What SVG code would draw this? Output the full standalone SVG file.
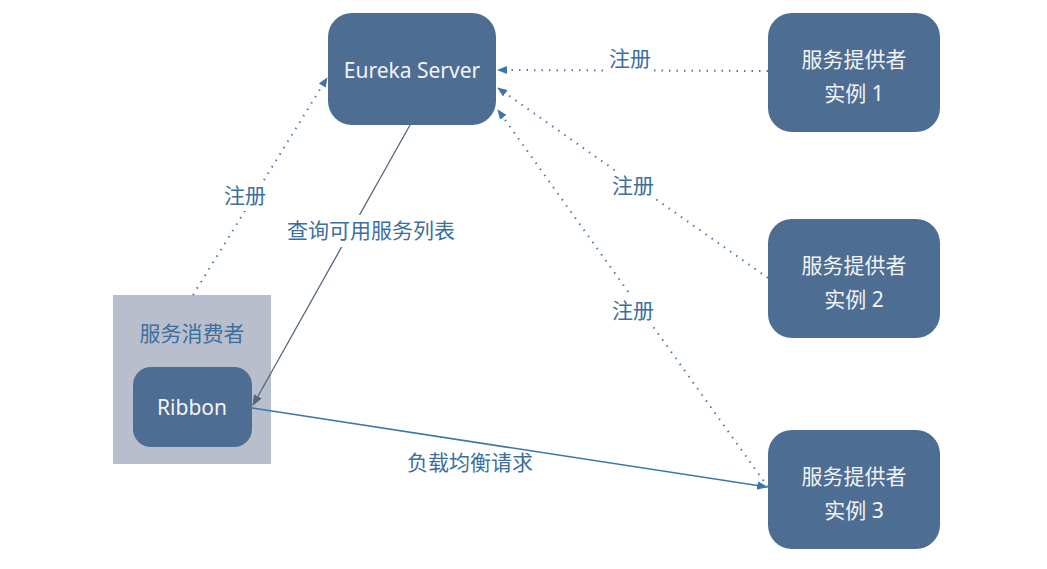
<svg xmlns="http://www.w3.org/2000/svg" width="1047" height="569" viewBox="0 0 1047 569">
<defs>
<style>
.node{fill:#4e6d93;}
.nt{fill:#f2f4f7;font-family:"Noto Sans","Noto Sans CJK SC",sans-serif;font-size:21px;text-anchor:middle;}
.lbl{fill:#3c6e9e;font-family:"Noto Sans CJK SC","Noto Sans",sans-serif;font-size:21px;text-anchor:middle;}
.dot{fill:none;stroke:#4a7caa;stroke-width:2;stroke-dasharray:1.5 6;marker-end:url(#ab);}
</style>
<marker id="ab" viewBox="0 0 10 10" refX="9" refY="5" markerWidth="10" markerHeight="10" markerUnits="userSpaceOnUse" orient="auto"><path d="M0,1 L10,5 L0,9 z" fill="#3f74a6"/></marker>
<marker id="ag" viewBox="0 0 10 10" refX="9" refY="5" markerWidth="11" markerHeight="11" markerUnits="userSpaceOnUse" orient="auto"><path d="M0,1 L10,5 L0,9 z" fill="#55667a"/></marker>
<marker id="abl" viewBox="0 0 10 10" refX="9" refY="5" markerWidth="11" markerHeight="11" markerUnits="userSpaceOnUse" orient="auto"><path d="M0,1 L10,5 L0,9 z" fill="#3a76a8"/></marker>
</defs>
<rect width="1047" height="569" fill="#ffffff"/>
<g id="consumer">
<rect x="113" y="295" width="158" height="169" fill="#b9becc"/>
<text class="lbl" x="192" y="341">服务消费者</text>
</g>
<g id="connectors">
<line class="dot" x1="193" y1="295" x2="327" y2="78"/>
<line class="dot" x1="768" y1="71" x2="498" y2="70"/>
<line class="dot" x1="768" y1="278" x2="498" y2="88"/>
<line class="dot" x1="768" y1="487" x2="498" y2="110"/>
<line x1="410" y1="125" x2="253" y2="405" stroke="#55667a" stroke-width="1.3" marker-end="url(#ag)"/>
<line x1="252" y1="408" x2="767" y2="487" stroke="#3a76a8" stroke-width="1.6" marker-end="url(#abl)"/>
<rect x="284" y="215" width="174" height="32" fill="#ffffff"/>
<text class="lbl" x="371" y="238">查询可用服务列表</text>
<rect x="222" y="181" width="46" height="30" fill="#ffffff"/>
<text class="lbl" x="245" y="203">注册</text>
<rect x="607" y="44" width="46" height="30" fill="#ffffff"/>
<text class="lbl" x="630" y="66">注册</text>
<rect x="610" y="171" width="46" height="30" fill="#ffffff"/>
<text class="lbl" x="633" y="193">注册</text>
<rect x="610" y="296" width="46" height="30" fill="#ffffff"/>
<text class="lbl" x="633" y="318">注册</text>
<text class="lbl" x="470" y="470">负载均衡请求</text>
</g>
<g id="eureka">
<rect class="node" x="328" y="13" width="168" height="112" rx="24"/>
<text class="nt" x="412" y="78">Eureka Server</text>
</g>
<g id="ribbon">
<rect class="node" x="133" y="367" width="119" height="80" rx="18"/>
<text class="nt" x="192" y="415">Ribbon</text>
</g>
<g id="provider1">
<rect class="node" x="768" y="13" width="172" height="119" rx="24"/>
<text class="nt" x="854" y="67">服务提供者</text>
<text class="nt" x="854" y="101">实例 1</text>
</g>
<g id="provider2">
<rect class="node" x="768" y="219" width="172" height="119" rx="24"/>
<text class="nt" x="854" y="273">服务提供者</text>
<text class="nt" x="854" y="307">实例 2</text>
</g>
<g id="provider3">
<rect class="node" x="768" y="430" width="172" height="119" rx="24"/>
<text class="nt" x="854" y="484">服务提供者</text>
<text class="nt" x="854" y="518">实例 3</text>
</g>
</svg>
